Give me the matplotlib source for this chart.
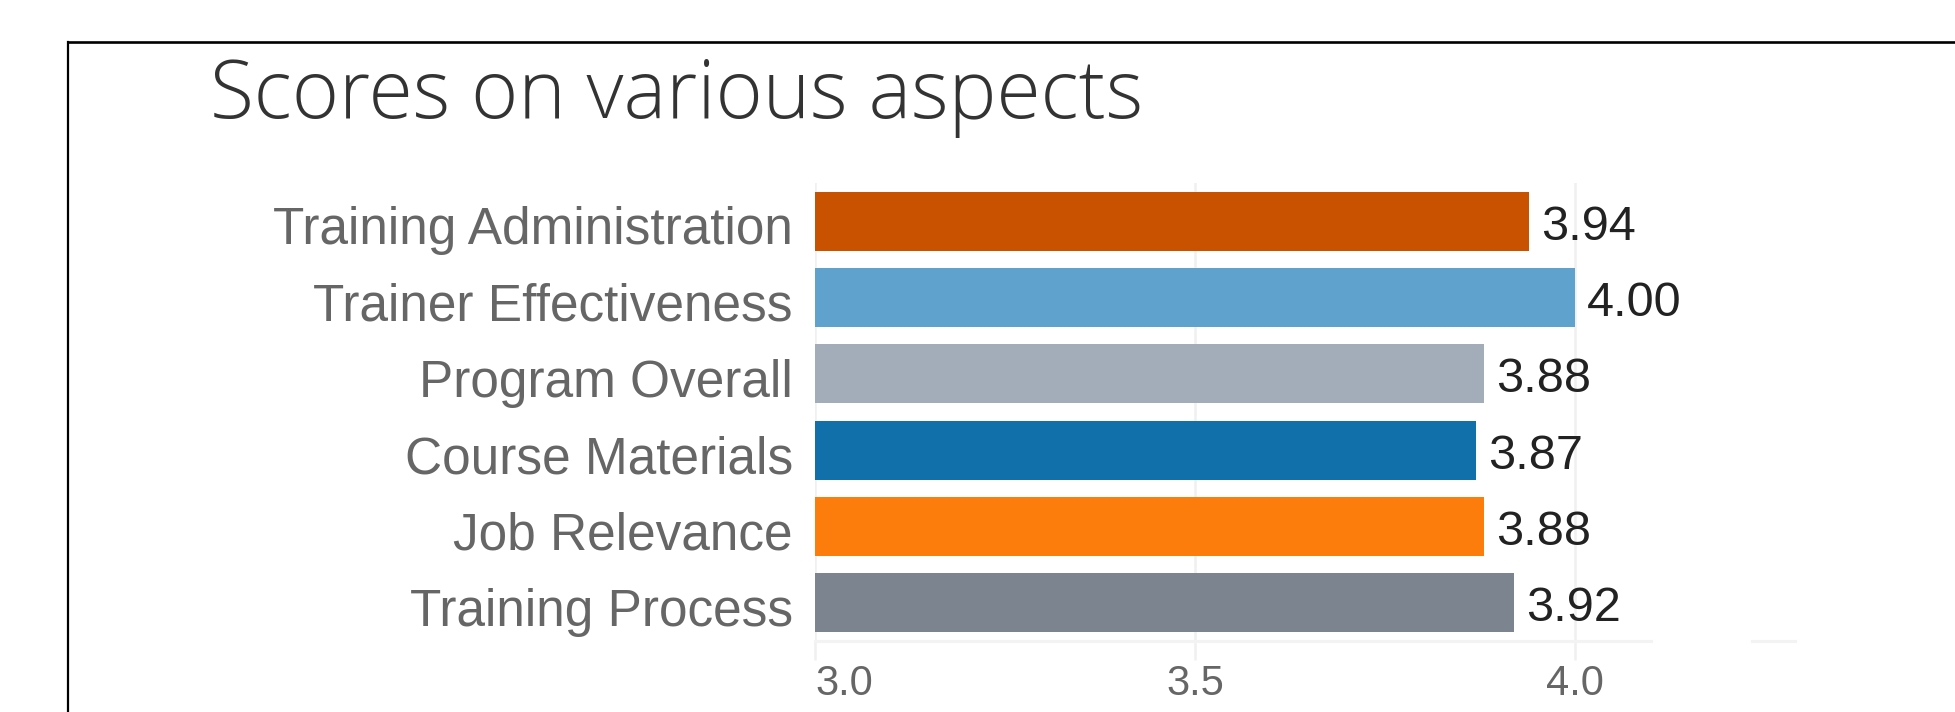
import matplotlib
matplotlib.use("Agg")
import matplotlib.pyplot as plt
from matplotlib.lines import Line2D
from matplotlib.transforms import ScaledTranslation

categories = ["Training Administration", "Trainer Effectiveness", "Program Overall",
              "Course Materials", "Job Relevance", "Training Process"]
scores = [3.94, 4.00, 3.88, 3.87, 3.88, 3.92]
value_labels = ["3.94", "4.00", "3.88", "3.87", "3.88", "3.92"]
colors = ["#C85200", "#5FA2CE", "#A3ACB9", "#1170AA", "#FC7D0B", "#7B848F"]
xticks = [3.0, 3.5, 4.0]
xtick_labels = ["3.0", "3.5", "4.0"]
title = "Scores on various aspects"

W, H = 1956, 712
fig = plt.figure(figsize=(W / 100, H / 100), dpi=100)

narrow = ["Liberation Sans Narrow", "DejaVu Sans Condensed", "Liberation Sans", "DejaVu Sans"]
title_fam = ["Open Sans", "Lato", "Liberation Sans", "DejaVu Sans"]

ax = fig.add_axes([815 / W, (H - 641) / H, 988 / W, 458 / H])
y = list(range(len(categories)))
ax.barh(y, scores, height=0.77, color=colors, zorder=2)
ax.set_xlim(3.0, 4.3)
ax.set_ylim(5.5, -0.5)

for s in ax.spines.values():
    s.set_visible(False)

ax.set_yticks(y)
ax.set_yticklabels(categories, family=narrow, fontsize=37, color="#666666")
ax.tick_params(axis="y", length=0, pad=16)
down = ScaledTranslation(0, -4 / 100, fig.dpi_scale_trans)
for lab in ax.get_yticklabels():
    lab.set_transform(lab.get_transform() + down)

ax.set_xticks(xticks)
ax.set_xticklabels(xtick_labels, family=narrow, fontsize=30, color="#666666")
ax.tick_params(axis="x", length=13.7, width=1.8, color="#f0f0f0", pad=3)
ax.get_xticklabels()[0].set_horizontalalignment("left")
ax.xaxis.grid(True, color="#f0f0f0", linewidth=1.8, zorder=0)
ax.set_axisbelow(True)

for yi, v, lab in zip(y, scores, value_labels):
    ax.annotate(lab, (v, yi), xytext=(8.6, -4.3), textcoords="offset points",
                ha="left", va="center", family=narrow, fontsize=35, color="#222222")

ax.plot([3.0, 4.1], [5.5, 5.5], color="#f3f3f3", lw=2.2, clip_on=False, zorder=1)
ax.plot([4.233, 4.29], [5.5, 5.5], color="#f3f3f3", lw=2.2, clip_on=False, zorder=1)

fig.text(210 / W, 1 - 118 / H, title, family=title_fam, fontsize=58, fontweight=300,
         color="#333333", ha="left", va="baseline")

fig.add_artist(Line2D([68 / W, 1.0], [1 - 41.5 / H, 1 - 41.5 / H], color="black", lw=1.9))
fig.add_artist(Line2D([68 / W, 68 / W], [1 - 41.5 / H, 0], color="black", lw=1.6))

fig.savefig("out.png", dpi=100)
